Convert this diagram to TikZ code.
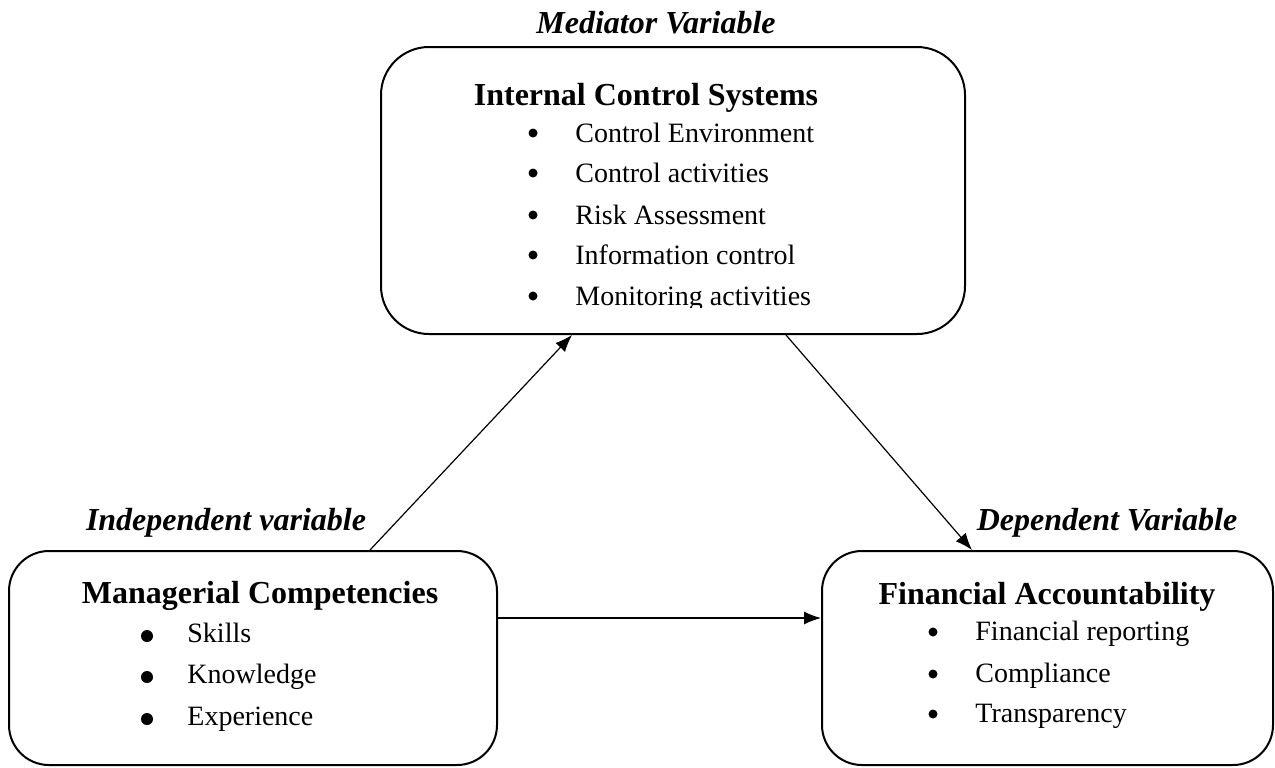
\documentclass[tikz,border=0pt]{standalone}
\usepackage{fontspec}
\setmainfont{Liberation Serif}
\usetikzlibrary{arrows.meta}

\tikzset{
    varbox/.style={draw, line width=1pt, rounded corners=24pt, inner sep=0pt},
    vartitle/.style={anchor=base, inner sep=0pt, font=\fontsize{16}{19}\selectfont\bfseries},
    varlabel/.style={anchor=base, inner sep=0pt, font=\fontsize{16}{19}\selectfont\bfseries\itshape},
    listitem/.style={anchor=base west, inner sep=0pt, font=\fontsize{14}{17}\selectfont},
    bulletmark/.style={circle, fill, inner sep=0pt, minimum size=4.5pt},
    link/.style={line width=0.6pt, -{Latex[length=8.5pt,width=6.5pt]}}
}

\begin{document}
\begin{tikzpicture}[x=0.5pt, y=-0.5pt]
        \useasboundingbox (0,0) rectangle (1275,767);

        % the three variables
        \node[varbox, minimum width=292pt, minimum height=143.5pt] (ics) at (673,190.5) {};
        \node[varbox, minimum width=244pt, minimum height=107pt, rounded corners=20pt] (mc) at (253,658) {};
        \node[varbox, minimum width=225.5pt, minimum height=107pt, rounded corners=20pt] (fa) at (1047.5,658) {};

        \node[varlabel] (med_label) at (656,33) {Mediator Variable};
        \node[varlabel] (ind_label) at (226,530) {Independent variable};
        \node[varlabel] (dep_label) at (1107,530) {Dependent Variable};

        \node[vartitle] (ics_title) at (646,105) {Internal Control Systems};
        \node[vartitle] (mc_title) at (260,603) {Managerial Competencies};
        \node[vartitle] (fa_title) at (1047,604) {Financial Accountability};

        % bullet lists
        \foreach \y/\txt in {142/Control Environment, 182/Control activities, 224/Risk Assessment, 264/Information control} {
            \node[bulletmark] (ics_dot_\y) at (533,\y-9) {};
            \node[listitem] (ics_item_\y) at (575,\y) {\txt};
        }
        \node[bulletmark] (ics_dot_305) at (533,296) {};
        \begin{scope}
            \clip (560,270) rectangle (900,307);
            \node[listitem] (ics_item_305) at (575,305) {Monitoring activities};
        \end{scope}

        \foreach \y/\txt in {642/Skills, 683/Knowledge, 725/Experience} {
            \node[bulletmark, minimum size=6pt] (mc_dot_\y) at (147,\y-6) {};
            \node[listitem] (mc_item_\y) at (187,\y) {\txt};
        }

        \foreach \y/\txt in {640/Financial reporting, 682/Compliance, 722/Transparency} {
            \node[bulletmark] (fa_dot_\y) at (933,\y-8) {};
            \node[listitem] (fa_item_\y) at (975,\y) {\txt};
        }

        % paths between the variables
        \draw[link] ([xshift=58.5pt]mc.north) -- ([xshift=-50.5pt]ics.south);
        \draw[link] ([xshift=56.5pt]ics.south) -- ([xshift=-37.75pt]fa.north);
        \draw[link] ([yshift=20pt]mc.east) -- ([yshift=20pt]fa.west);
    \end{tikzpicture}
\end{document}
